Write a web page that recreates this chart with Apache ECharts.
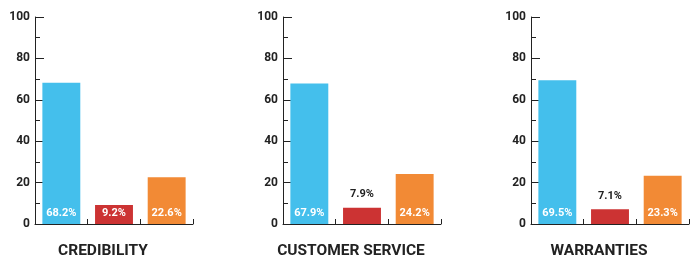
<!DOCTYPE html>
<html>
<head>
<meta charset="utf-8">
<script src="https://cdn.jsdelivr.net/npm/echarts@6/dist/echarts.min.js"></script>
<style>
html,body{margin:0;padding:0;background:#fff;}
#chart{width:700px;height:270px;}
</style>
</head>
<body>
<div id="chart"></div>
<script>
var panelTitles = ['CREDIBILITY', 'CUSTOMER SERVICE', 'WARRANTIES'];
var barGroups = ['A', 'B', 'C'];
var blueValues = [68.2, 67.9, 69.5];
var redValues = [9.2, 7.9, 7.1];
var orangeValues = [22.6, 24.2, 23.3];
var yTicks = [0, 20, 40, 60, 80, 100];

var colors = ['#44BFEC', '#CC3333', '#F28A35'];
var gridLefts = [35, 283, 531];
var gridWidth = 158;
var gridTop = 17;
var gridHeight = 207;
var font = 'Roboto';

var chart = echarts.init(document.getElementById('chart'));
var grids = [], xAxes = [], yAxes = [], series = [], graphics = [];

for (var i = 0; i < 3; i++) {
  grids.push({left: gridLefts[i], top: gridTop, width: gridWidth, height: gridHeight, containLabel: false});
  xAxes.push({
    type: 'category', gridIndex: i, data: barGroups,
    axisLine: {show: true, lineStyle: {color: '#222', width: 1}},
    axisTick: {show: true, inside: true, length: 5, lineStyle: {color: '#222'}},
    axisLabel: {show: false}
  });
  yAxes.push({
    type: 'value', gridIndex: i, min: yTicks[0], max: yTicks[yTicks.length - 1], interval: 20,
    axisLine: {show: true, lineStyle: {color: '#222', width: 1}},
    axisTick: {show: true, inside: true, length: 9, lineStyle: {color: '#222'}},
    minorTick: {show: true, splitNumber: 2, length: 5, lineStyle: {color: '#222'}},
    splitLine: {show: false},
    axisLabel: {margin: 5, color: '#222', fontFamily: font, fontWeight: 'bold', fontSize: 12}
  });
  var vals = [blueValues[i], redValues[i], orangeValues[i]];
  var data = vals.map(function (v, k) {
    var inside = v > 8;
    return {
      value: v,
      itemStyle: {color: colors[k]},
      label: inside ? {position: 'insideBottom', distance: 5, color: '#fff'}
                    : {position: 'top', distance: 8, color: '#222'}
    };
  });
  series.push({
    type: 'bar', xAxisIndex: i, yAxisIndex: i, data: data, barWidth: '72%',
    animation: false,
    label: {show: true, fontFamily: font, fontWeight: 'bold', fontSize: 11,
      formatter: function (p) { return p.value.toFixed(1) + '%'; }}
  });
  graphics.push({
    type: 'text', x: gridLefts[i] + gridWidth / 2 - 11, y: 251,
    style: {
      text: panelTitles[i], align: 'center', verticalAlign: 'middle',
      font: 'bold 15.5px Roboto', fill: '#222'
    }
  });
}

chart.setOption({
  animation: false,
  grid: grids,
  xAxis: xAxes,
  yAxis: yAxes,
  series: series,
  graphic: graphics
});
</script>
</body>
</html>
